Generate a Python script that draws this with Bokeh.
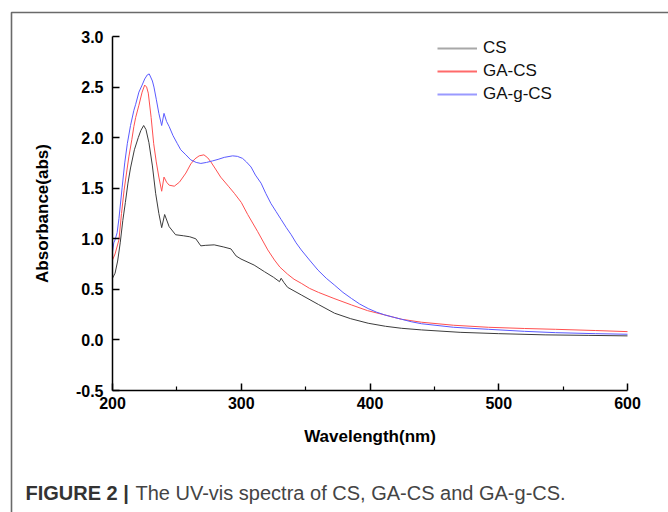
from bokeh.plotting import figure
from bokeh.models import (FixedTicker, Label, Legend, LegendItem, Range1d,
                          CustomJSTickFormatter, BoxAnnotation)
from bokeh.embed import file_html
from bokeh.resources import INLINE

# ---- data ----
cs_wl = [200, 202, 204, 206, 208, 210, 212, 214, 217, 220, 222, 224.2, 226, 228.3, 231, 233.5,
         236, 238.2, 240.5, 244, 249, 255, 260, 264.7, 268.6, 272, 279, 286, 292, 296, 299.8,
         310, 318, 325, 329.7, 331, 333, 336, 346.6, 360, 372.5, 385, 398.6, 412, 424.6, 440,
         470, 500, 536, 570, 600]
cs_abs = [0.61, 0.66, 0.78, 0.96, 1.18, 1.36, 1.55, 1.70, 1.88, 2.00, 2.07, 2.12, 2.08, 1.95, 1.72,
          1.45, 1.25, 1.11, 1.24, 1.12, 1.04, 1.03, 1.02, 1.00, 0.93, 0.935, 0.94, 0.92, 0.90, 0.83,
          0.80, 0.74, 0.675, 0.62, 0.576, 0.61, 0.57, 0.52, 0.445, 0.35, 0.264, 0.21, 0.165, 0.135,
          0.115, 0.099, 0.075, 0.062, 0.05, 0.045, 0.04]

gacs_wl = [200, 202, 205, 207, 209, 211, 212.7, 215, 216.6, 218, 220.5, 223, 225, 226.5, 227.8,
           230, 232, 234, 236, 238.2, 240, 242, 244, 248, 252, 257, 260.8, 264, 267.3, 271, 274,
           276.4, 280, 284, 290, 294.6, 300, 305, 312.8, 320.6, 325.8, 330, 336, 341, 346.6, 353,
           360, 372, 385.6, 398, 411.5, 424.6, 440, 465, 492, 520, 544, 575, 600]
gacs_abs = [0.79, 0.85, 0.99, 1.25, 1.48, 1.66, 1.81, 1.98, 2.11, 2.20, 2.32, 2.45, 2.52, 2.50,
            2.44, 2.20, 1.94, 1.76, 1.61, 1.47, 1.61, 1.56, 1.53, 1.52, 1.56, 1.65, 1.74, 1.79,
            1.82, 1.83, 1.80, 1.76, 1.69, 1.61, 1.52, 1.45, 1.36, 1.24, 1.07, 0.89, 0.79, 0.72,
            0.65, 0.60, 0.56, 0.51, 0.47, 0.41, 0.346, 0.29, 0.247, 0.204, 0.175, 0.145, 0.125,
            0.113, 0.105, 0.093, 0.082]

gagcs_wl = [200, 201, 202, 203.6, 205, 207.5, 209.5, 211.5, 214, 216.6, 218, 220.5, 223, 225, 227,
            228.5, 229.6, 231, 232.2, 234, 236, 238.2, 240, 242, 244, 247, 250.4, 253, 257, 260.8,
            265, 268.6, 273, 277.7, 282, 286.8, 293.3, 297, 301, 304, 307.6, 311, 315.4, 319, 323,
            327, 331, 335, 338.8, 342.6, 346.6, 353, 359.6, 366, 372.6, 379, 385.6, 392, 398.6, 405,
            411.5, 418, 424.6, 432, 440, 465, 492, 520, 544, 575, 600]
gagcs_abs = [0.87, 0.96, 0.99, 1.06, 1.20, 1.51, 1.75, 1.94, 2.12, 2.27, 2.33, 2.45, 2.52, 2.58,
             2.62, 2.63, 2.60, 2.56, 2.50, 2.38, 2.24, 2.12, 2.24, 2.16, 2.11, 2.02, 1.94, 1.88,
             1.83, 1.78, 1.755, 1.745, 1.755, 1.77, 1.785, 1.805, 1.82, 1.815, 1.795, 1.76, 1.71,
             1.63, 1.55, 1.45, 1.35, 1.27, 1.19, 1.11, 1.04, 0.96, 0.89, 0.79, 0.69, 0.61, 0.54,
             0.47, 0.41, 0.355, 0.31, 0.275, 0.247, 0.225, 0.204, 0.18, 0.16, 0.125, 0.105, 0.085,
             0.072, 0.062, 0.056]

series_names = ["CS", "GA-CS", "GA-g-CS"]
series_colors = ["#3c3c3c", "#ff5050", "#5a5aff"]
legend_colors = ["#a8a8a8", "#ff6a6a", "#9a9aff"]
x_ticks = [200, 300, 400, 500, 600]
x_minor = [250, 350, 450, 550]
y_ticks = [-0.5, 0.0, 0.5, 1.0, 1.5, 2.0, 2.5, 3.0]
x_label = "Wavelength(nm)"
y_label = "Absorbance(abs)"
caption_bold = "FIGURE 2 |"
caption_text = "The UV-vis spectra of CS, GA-CS and GA-g-CS."

FONT = "Liberation Sans"

# ---- layout: the plot frame covers the whole canvas; axes sit at fixed locations ----
W, H = 668, 512
X0, X1 = 200, 600          # axis span
Y0, Y1 = -0.5, 3.0
PX_L, PX_R, PX_T, PX_B = 112, 627, 36, 390   # where the axes go in pixels
sx = (PX_R - PX_L) / (X1 - X0)
sy = (PX_B - PX_T) / (Y1 - Y0)
def xd(px):
    return X0 + (px - PX_L) / sx
def yd(py):
    return Y0 + (PX_B - py) / sy

p = figure(width=W, height=H, output_backend="svg", toolbar_location=None,
           x_range=Range1d(xd(0), xd(W)), y_range=Range1d(yd(H), yd(0)),
           min_border=0, min_border_left=0, min_border_right=0,
           min_border_top=0, min_border_bottom=0)
p.outline_line_color = None
p.grid.visible = False
p.background_fill_color = "white"
p.border_fill_color = "white"

# figure frame (border lines top and left)
p.add_layout(BoxAnnotation(left=xd(11), right=xd(W + 4), top=yd(12), bottom=yd(H + 4),
                           fill_alpha=0, line_color="#6a6a6a", line_alpha=1, line_width=1.6))

for wl, ab, c in zip([cs_wl, gacs_wl, gagcs_wl], [cs_abs, gacs_abs, gagcs_abs], series_colors):
    p.line(wl, ab, line_color=c, line_width=1)

# legend proxies: lighter colours, drawn outside the visible range
proxies = [p.line([xd(-50), xd(-40)], [yd(-50), yd(-50)], line_color=c, line_width=2)
           for c in legend_colors]
legend = Legend(items=[LegendItem(label=n, renderers=[r]) for n, r in zip(series_names, proxies)],
                location=(437, 408), glyph_width=40, glyph_height=18, spacing=3, padding=0,
                margin=0, label_standoff=6, border_line_color=None, background_fill_alpha=0,
                label_text_font=FONT, label_text_font_size="17px", label_text_color="#111111")
p.add_layout(legend)

for ax in (p.xaxis[0], p.yaxis[0]):
    ax.axis_line_width = 1.5
    ax.axis_line_color = "black"
    ax.major_tick_line_color = "black"
    ax.major_tick_line_width = 1.5
    ax.major_tick_in = 7
    ax.major_tick_out = 0
    ax.minor_tick_in = 4
    ax.minor_tick_out = 0
    ax.minor_tick_line_color = "black"
    ax.minor_tick_line_width = 1.2
    ax.major_label_text_font = FONT
    ax.major_label_text_font_style = "bold"
    ax.major_label_text_font_size = "16px"
    ax.major_label_text_color = "black"
    ax.axis_label_text_font = FONT
    ax.axis_label_text_font_style = "bold"
    ax.axis_label_text_font_size = "17px"
    ax.axis_label_text_color = "black"

p.xaxis[0].fixed_location = Y0
p.xaxis[0].bounds = (X0, X1)
p.yaxis[0].fixed_location = X0
p.yaxis[0].bounds = (Y0, Y1)
p.xaxis[0].ticker = FixedTicker(ticks=x_ticks, minor_ticks=x_minor)
p.yaxis[0].ticker = FixedTicker(ticks=y_ticks)
p.yaxis[0].formatter = CustomJSTickFormatter(code="return tick.toFixed(1);")
p.xaxis[0].major_label_standoff = 6
p.yaxis[0].major_label_standoff = 9
p.xaxis[0].axis_label = x_label
p.yaxis[0].axis_label = y_label
p.xaxis[0].axis_label_standoff = 15
p.yaxis[0].axis_label_standoff = 21

p.add_layout(Label(x=xd(25), y=yd(492), text=caption_bold,
                   text_font=FONT, text_font_style="bold", text_font_size="20px",
                   text_color="#333333", text_baseline="middle"))
p.add_layout(Label(x=xd(135), y=yd(492), text=caption_text,
                   text_font=FONT, text_font_size="20px", text_color="#444444",
                   text_baseline="middle"))

open("out.html", "w").write(file_html(p, INLINE))
